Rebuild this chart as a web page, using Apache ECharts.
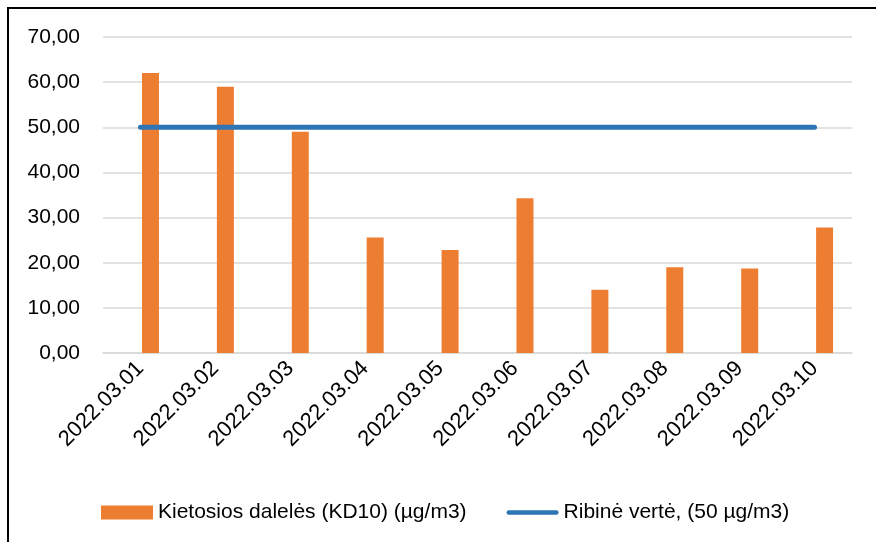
<!DOCTYPE html>
<html>
<head>
<meta charset="utf-8">
<script src="https://cdn.jsdelivr.net/npm/echarts@6/dist/echarts.min.js"></script>
<style>
  html, body { margin: 0; padding: 0; background: #fff; overflow: hidden; }
  #chart { position: absolute; left: 0; top: 0; width: 876px; height: 542px; }
  #frame { position: absolute; left: 7px; top: 7px; width: 900px; height: 600px;
           border-left: 2.5px solid #000; border-top: 2.5px solid #000; pointer-events: none; }
</style>
</head>
<body>
<div id="chart"></div>
<div id="frame"></div>
<script>
const dates = ['2022.03.01', '2022.03.02', '2022.03.03', '2022.03.04', '2022.03.05',
  '2022.03.06', '2022.03.07', '2022.03.08', '2022.03.09', '2022.03.10']
const kd10 = [62.0, 59.0, 49.0, 25.6, 22.8, 34.3, 14.0, 19.0, 18.7, 27.8]
const limit = [50, 50, 50, 50, 50, 50, 50, 50, 50, 50]
// empty slot so the real bars sit right of the category centre, like the source
const spacer = [null, null, null, null, null, null, null, null, null, null]
const names = ['Kietosios dalelės (KD10) (µg/m3)', 'Ribinė vertė, (50 µg/m3)']

const font = 'Liberation Sans'
const chart = echarts.init(document.getElementById('chart'), null, { renderer: 'canvas' })

chart.setOption({
  animation: false,
  grid: {
    left: 103,
    right: 24,
    top: 37,
    bottom: 189
  },
  legend: {
    data: [
      { name: names[0], icon: 'rect' },
      { name: names[1], icon: 'path://M2.5,0 h52 a2.5,2.5 0 0 1 0,5 h-52 a2.5,2.5 0 0 1 0,-5 z' }
    ],
    left: 96,
    top: 497,
    itemWidth: 52,
    itemHeight: 14,
    itemGap: 40,
    textStyle: { fontFamily: font, fontSize: 21, color: '#000' }
  },
  xAxis: {
    type: 'category',
    data: dates,
    axisTick: { show: false },
    axisLine: { lineStyle: { color: '#d9d9d9', width: 1.5 } },
    axisLabel: {
      rotate: 45,
      interval: 0,
      margin: 12,
      fontFamily: font,
      fontSize: 22,
      color: '#000'
    }
  },
  yAxis: {
    type: 'value',
    min: 0,
    max: 70,
    interval: 10,
    axisLine: { show: false },
    axisTick: { show: false },
    splitLine: { lineStyle: { color: '#d9d9d9', width: 1.5 } },
    axisLabel: {
      margin: 23,
      fontFamily: font,
      fontSize: 21,
      color: '#000',
      formatter: v => v.toFixed(2).replace('.', ',')
    }
  },
  series: [
    {
      name: 'spacer',
      type: 'bar',
      data: spacer,
      barWidth: 17,
      barGap: '18%',
      silent: true
    },
    {
      name: names[0],
      type: 'bar',
      data: kd10,
      barWidth: 17,
      barGap: '18%',
      itemStyle: { color: '#ed7d31' }
    },
    {
      name: names[1],
      type: 'line',
      data: limit,
      symbol: 'none',
      lineStyle: { color: '#2e75b6', width: 5, cap: 'round' },
      itemStyle: { color: '#2e75b6' },
      z: 5
    }
  ]
})
</script>
</body>
</html>
